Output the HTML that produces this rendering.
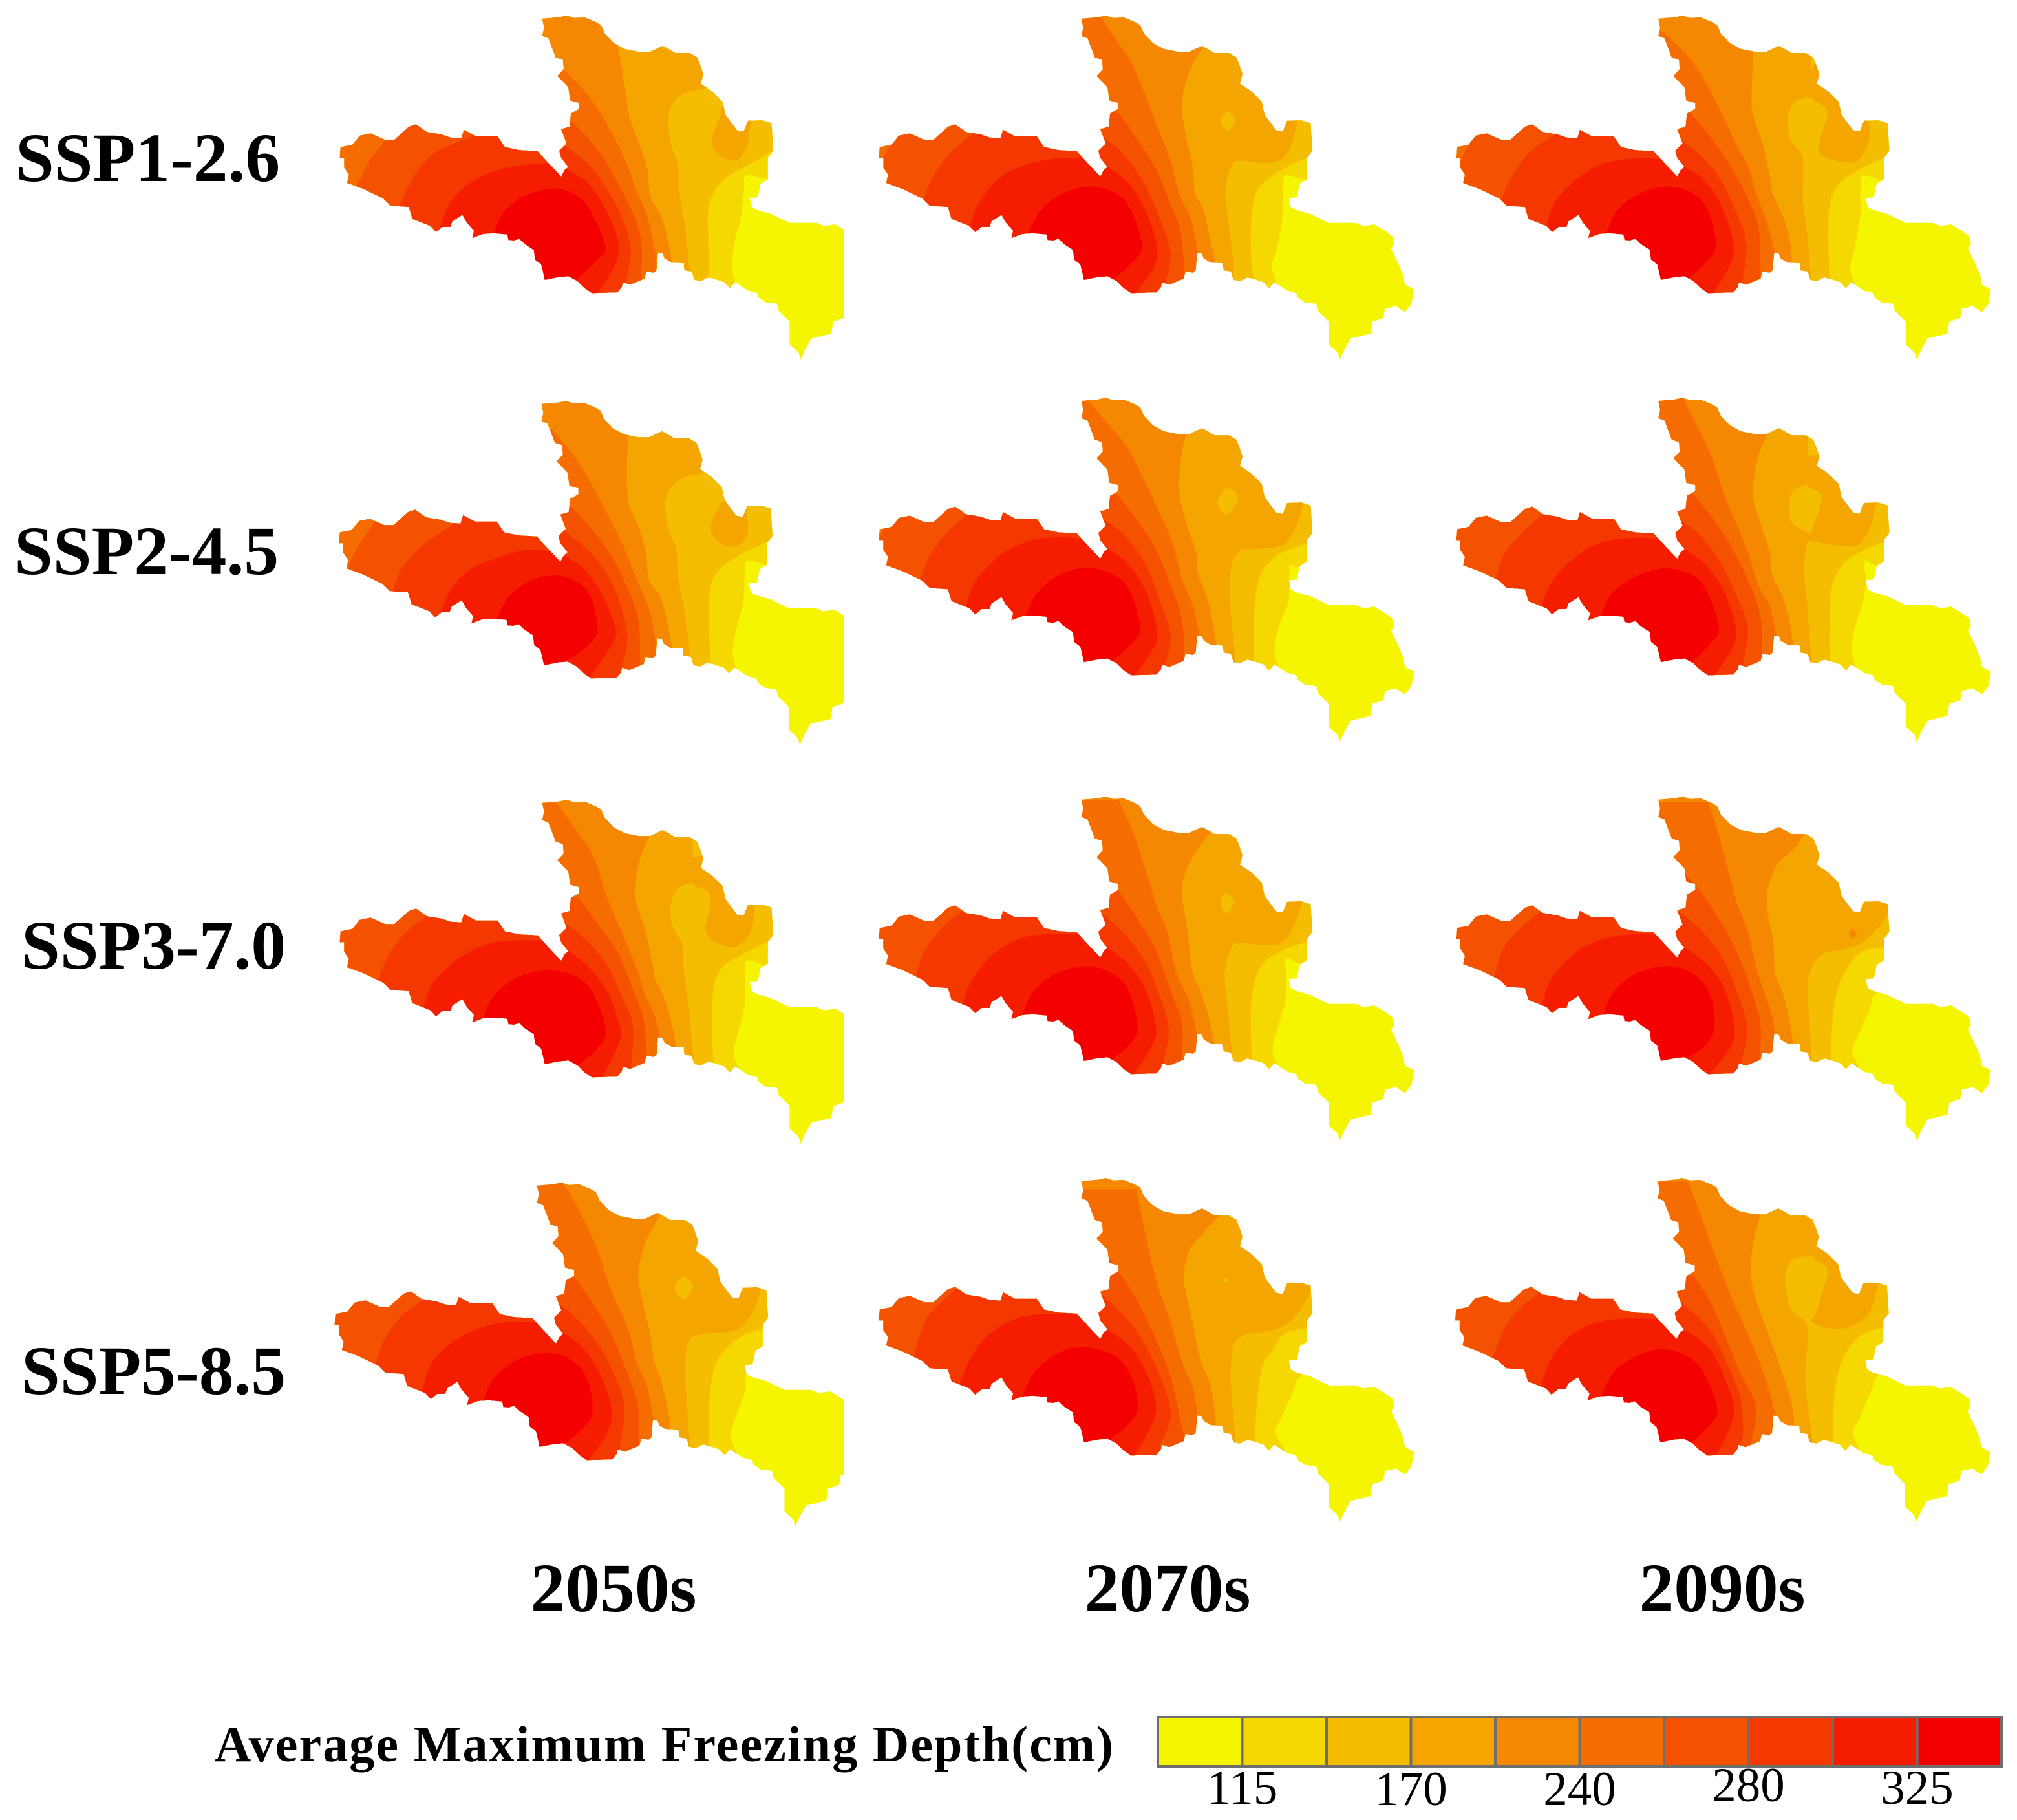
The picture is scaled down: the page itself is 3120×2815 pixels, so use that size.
<!DOCTYPE html>
<html lang="en">
<head>
<meta charset="utf-8">
<title>Average Maximum Freezing Depth projections</title>
<style>
html,body{margin:0;padding:0;background:#fff;}
svg{display:block;}
text{font-family:"Liberation Serif",serif;fill:#000;}
.big{font-weight:bold;font-size:107.5px;}
</style>
</head>
<body>
<svg id="chart" xmlns="http://www.w3.org/2000/svg" width="3120" height="2815" viewBox="0 0 3120 2815">
<rect width="3120" height="2815" fill="#ffffff"/>
<g id="maps"></g>
<text class="big" x="24" y="280">SSP1-2.6</text>
<text class="big" x="22" y="888">SSP2-4.5</text>
<text class="big" x="33" y="1498">SSP3-7.0</text>
<text class="big" x="33" y="2156">SSP5-8.5</text>
<text class="big" x="949" y="2492" text-anchor="middle">2050s</text>
<text class="big" x="1806" y="2492" text-anchor="middle">2070s</text>
<text class="big" x="2664" y="2492" text-anchor="middle">2090s</text>
<text x="332" y="2724" font-size="78" font-weight="bold" textLength="1390" lengthAdjust="spacing">Average Maximum Freezing Depth(cm)</text>
<g id="legend"></g>
</svg>
<script>
const bandColors = ['#f5f500','#f5d800','#f5bd00','#f5a500','#f58800','#f56c00','#f55200','#f53800','#f51c00','#f50000'];
const legendTickLabels = ['115','170','240','280','325'];
const legendTickCells = [1,3,5,7,9];
const legendTickBaselines = [2790,2792,2792,2786,2790];
const scenarios = ['ssp1-2.6','ssp2-4.5','ssp3-7.0','ssp5-8.5'];
const decades = ['2050s','2070s','2090s'];

// basin boundary, in map units
const basinOutline = [[593,78],[640,72],[660,65],[680,75],[710,73],[740,92],[755,105],[765,140],[790,180],[820,205],[860,217],[890,217],[925,192],[945,208],[960,222],[1000,222],[1020,240],[1028,270],[1037,310],[1030,350],[1060,380],[1090,425],[1098,480],[1130,545],[1148,550],[1160,505],[1200,503],[1225,515],[1230,630],[1215,660],[1215,750],[1195,768],[1187,825],[1165,828],[1170,865],[1185,878],[1225,895],[1275,932],[1350,932],[1370,945],[1400,938],[1430,965],[1452,990],[1455,1020],[1447,1040],[1465,1095],[1480,1150],[1485,1190],[1510,1210],[1503,1270],[1485,1305],[1460,1280],[1430,1290],[1425,1330],[1395,1345],[1390,1395],[1335,1415],[1320,1455],[1305,1503],[1300,1475],[1275,1440],[1275,1345],[1245,1300],[1240,1270],[1210,1265],[1190,1245],[1185,1225],[1160,1215],[1125,1180],[1110,1205],[1095,1180],[1065,1165],[1050,1160],[1030,1175],[1012,1170],[1005,1135],[985,1130],[983,1100],[950,1098],[930,1080],[925,1060],[912,1058],[908,1130],[900,1140],[880,1135],[875,1165],[835,1190],[815,1180],[812,1200],[800,1222],[730,1225],[710,1205],[690,1175],[665,1155],[640,1158],[600,1170],[595,1135],[590,1105],[573,1085],[570,1045],[545,1020],[530,998],[515,1005],[500,1003],[497,980],[460,975],[430,978],[400,995],[405,965],[385,930],[373,898],[345,925],[340,948],[318,948],[300,970],[285,945],[235,915],[225,865],[175,860],[155,830],[100,790],[55,765],[60,730],[47,700],[47,660],[35,660],[37,615],[70,605],[90,567],[120,558],[160,585],[185,585],[225,530],[245,520],[275,552],[315,562],[340,575],[370,578],[377,543],[410,570],[470,570],[490,615],[530,628],[580,632],[615,690],[645,738],[655,710],[665,698],[645,660],[640,630],[660,600],[645,540],[668,530],[672,475],[695,455],[695,430],[670,420],[665,365],[635,318],[652,290],[650,250],[630,240],[610,160],[593,150],[598,115]];

// contour lines per panel (L1 yellow edge ... L9 red core)
const mapR1C1 = {
 L1:[[1350,765],[1285,750],[1222,733],[1215,800],[1205,920],[1190,1000],[1180,1110],[1190,1185]],
 L2:[[1340,600],[1305,625],[1240,680],[1170,735],[1130,800],[1112,880],[1112,1000],[1115,1160]],
 L3:[[1110,365],[1045,390],[1010,430],[997,500],[1005,610],[1025,690],[1030,820],[1045,950],[1058,1130]],
 holes:[[[1165,430],[1230,470],[1230,560],[1222,620],[1190,672],[1140,645],[1122,590],[1140,510]]],
 L4:[[850,185],[860,260],[875,400],[885,490],[910,590],[935,700],[945,820],[975,900],[995,1000],[1007,1095]],
 L5:[[697,295],[760,390],[820,520],[875,680],[905,800],[935,900],[960,1060]],
 L6:[[720,510],[800,640],[860,790],[905,930],[920,1040],[917,1170]], W6:[[97,775],[130,680],[180,583]],
 L7:[[700,612],[760,680],[810,770],[860,900],[888,1040],[875,1175]], W7:[[220,860],[260,740],[320,640],[440,565]],
 L8:[[700,705],[760,760],[810,860],[850,1000],[845,1100],[795,1222]], W8:[[338,950],[370,840],[440,750],[520,705],[610,685],[658,688]],
 L9:[[493,975],[520,890],[580,820],[670,788],[740,825],[775,890],[815,1030],[790,1090],[730,1170]]
};
const mapR1C2 = {
 L1:[[1300,770],[1215,752],[1155,735],[1148,800],[1146,920],[1130,1050],[1118,1110],[1130,1180]],
 L2:[[1290,620],[1215,660],[1140,715],[1085,780],[1065,860],[1060,1000],[1062,1110],[1068,1170]],
 L3:[[1190,503],[1175,590],[1150,660],[1100,682],[1030,672],[1005,700],[990,800],[1000,950],[1012,1100],[1012,1175]],
 islands:[[2,[[995,467],[1017,505],[995,545],[977,505]]]],
 L4:[[930,192],[900,270],[880,350],[870,450],[880,560],[900,700],[905,800],[930,880],[945,980],[962,1097]],
 L5:[[645,65],[690,170],[730,260],[770,400],[800,520],[840,680],[860,800],[895,920],[915,1060]],
 L6:[[690,460],[750,590],[800,710],[840,860],[865,960],[877,1130]], W6:[[48,660],[55,630],[70,605]],
 L7:[[648,570],[700,630],[760,750],[800,880],[838,1050],[825,1180]], W7:[[158,835],[180,750],[230,640],[295,560]],
 L8:[[665,698],[720,760],[770,880],[800,1020],[795,1110],[745,1222]], W8:[[285,945],[310,850],[370,740],[450,685],[530,662],[600,660]],
 L9:[[447,975],[480,880],[540,810],[620,780],[690,810],[730,880],[760,1030],[730,1100],[680,1170]]
};
const mapR1C3 = {
 L1:[[1290,770],[1205,755],[1148,735],[1140,800],[1140,900],[1125,1030],[1112,1120],[1125,1185]],
 L2:[[1280,610],[1205,660],[1130,715],[1080,770],[1055,860],[1052,1000],[1055,1160]],
 L3:[[1005,405],[960,425],[940,500],[950,590],[980,650],[982,750],[982,850],[995,1000],[1003,1175]],
 holes:[[[1005,405],[1048,460],[1040,530],[1025,610],[1040,655],[1105,680],[1140,660],[1165,580],[1163,505],[1170,450],[1200,300],[1100,50],[1005,300]]],
 L4:[[845,215],[842,330],[842,460],[870,600],[890,730],[898,810],[925,900],[945,1000],[952,1100]],
 L5:[[598,135],[650,210],[700,310],[750,450],[800,610],[830,690],[850,800],[880,920],[905,1060]],
 L6:[[670,470],[720,560],[780,690],[830,830],[860,960],[865,1170]], W6:[[38,680],[50,630],[62,610]],
 L7:[[640,580],[700,650],[750,740],[790,860],[825,1010],[815,1180]], W7:[[150,835],[175,750],[225,640],[300,560]],
 L8:[[655,700],[700,740],[750,840],[785,980],[785,1090],[735,1225]], W8:[[275,945],[300,840],[370,735],[440,680],[540,660],[590,665]],
 L9:[[440,972],[470,880],[530,810],[610,780],[680,810],[720,880],[742,1020],[720,1090],[665,1165]]
};
const mapR2C1 = {
 L1:[[1300,775],[1222,755],[1165,735],[1158,800],[1155,900],[1135,1020],[1125,1120],[1135,1185]],
 L2:[[1300,590],[1225,650],[1150,705],[1095,760],[1065,840],[1060,1000],[1065,1160]],
 L3:[[1045,368],[990,385],[955,430],[938,500],[950,610],[970,690],[975,800],[995,970],[1008,1135]],
 holes:[[[1100,480],[1075,540],[1065,600],[1085,655],[1130,675],[1160,640],[1168,590],[1163,520],[1180,480],[1130,430]]],
 L4:[[838,215],[833,350],[838,490],[865,590],[885,690],[895,815],[925,880],[945,990],[958,1097]],
 L5:[[625,180],[680,280],[720,370],[770,510],[820,660],[855,790],[895,940],[912,1060]],
 L6:[[680,505],[730,590],[790,710],[830,830],[865,980],[870,1170]], W6:[[68,750],[90,680],[140,565]],
 L7:[[662,612],[720,680],[770,770],[810,890],[835,1050],[818,1185]], W7:[[188,860],[215,760],[270,670],[355,580]],
 L8:[[660,712],[710,760],[760,860],[795,980],[800,1060],[730,1225]], W8:[[318,970],[345,860],[400,770],[470,725],[550,690],[622,692]],
 L9:[[475,975],[510,880],[570,815],[640,795],[700,825],[735,890],[752,1020],[725,1090],[665,1155]]
};
const mapR2C2 = {
 L1:[[1300,770],[1195,762],[1168,755],[1167,830],[1163,910],[1140,1000],[1125,1100],[1135,1170]],
 L2:[[1290,620],[1215,660],[1140,705],[1095,770],[1075,860],[1068,1000],[1068,1155]],
 L3:[[1205,490],[1190,570],[1155,660],[1100,682],[1035,690],[1010,740],[1002,830],[1005,950],[1018,1160]],
 islands:[[2,[[995,430],[1025,470],[995,540],[968,490]]]],
 L4:[[883,205],[870,280],[863,380],[865,470],[885,590],[910,700],[915,790],[940,890],[955,990],[965,1085]],
 L5:[[610,60],[660,150],[720,260],[770,410],[820,570],[850,690],[870,810],[900,920],[918,1045]],
 L6:[[690,455],[750,570],[800,690],[840,840],[870,980],[877,1150]], W6:[[37,645],[42,620],[48,600]],
 L7:[[648,555],[700,610],[760,720],[800,860],[838,1040],[825,1165]], W7:[[148,815],[175,710],[225,610],[280,540]],
 L8:[[665,682],[720,745],[770,860],[800,1010],[795,1090],[742,1212]], W8:[[275,925],[300,820],[370,710],[450,650],[530,635],[590,640]],
 L9:[[440,960],[470,870],[530,795],[612,762],[690,800],[730,870],[755,1020],[725,1090],[675,1155]]
};
const mapR2C3 = {
 L1:[[1290,765],[1190,755],[1150,733],[1155,810],[1148,900],[1130,990],[1115,1090],[1125,1170]],
 L2:[[1280,610],[1205,655],[1130,705],[1085,760],[1060,860],[1055,1000],[1055,1150]],
 L3:[[995,415],[955,440],[945,500],[952,575],[1000,625],[990,680],[985,780],[995,950],[1005,1160]],
 holes:[[[995,415],[1030,450],[1030,500],[1010,590],[1000,630],[1010,652],[1095,672],[1135,665],[1165,600],[1185,490],[1190,420],[1130,300],[995,300]]],
 L4:[[883,205],[860,290],[845,400],[845,480],[870,600],[890,700],[898,800],[925,880],[945,990],[955,1085]],
 L5:[[650,50],[690,170],[730,300],[770,480],[810,620],[835,720],[860,840],[890,920],[908,1050]],
 L6:[[680,455],[740,570],[790,690],[840,850],[865,970],[870,1130]],
 L7:[[640,558],[700,630],[750,730],[790,850],[830,1010],[815,1170]], W7:[[135,805],[160,700],[205,620],[262,540]],
 L8:[[655,685],[710,745],[760,850],[795,1000],[790,1090],[738,1212]], W8:[[262,920],[290,820],[350,725],[420,660],[510,638],[580,640]],
 L9:[[427,960],[455,870],[520,800],[600,765],[680,795],[720,870],[750,1020],[720,1090],[675,1160]]
};
const mapR3C1 = {
 L1:[[1310,770],[1222,752],[1165,730],[1160,800],[1158,915],[1140,1030],[1128,1110],[1140,1178]],
 L2:[[1300,610],[1225,650],[1150,705],[1095,760],[1072,850],[1068,1000],[1072,1150]],
 L3:[[1015,405],[975,425],[955,490],[958,580],[985,660],[990,770],[1005,940],[1018,1160]],
 holes:[[[1015,405],[1060,445],[1062,510],[1050,600],[1075,650],[1125,672],[1160,640],[1180,580],[1185,495],[1190,420],[1130,300],[1015,300]]],
 L4:[[895,212],[870,300],[858,400],[860,490],[885,610],[905,750],[910,800],[935,880],[955,980],[970,1090]],
 L5:[[640,68],[690,175],[740,290],[780,470],[825,630],[860,760],[880,860],[910,960],[925,1053]],
 L6:[[700,465],[760,590],[810,700],[850,850],[880,980],[888,1130]],
 L7:[[655,565],[720,640],[780,750],[820,880],[850,1000],[845,1180]], W7:[[148,810],[175,710],[225,610],[280,545]],
 L8:[[675,690],[730,760],[780,860],[810,980],[815,1060],[765,1218]], W8:[[273,925],[300,820],[370,720],[450,660],[530,645],[600,645]],
 L9:[[437,968],[465,880],[530,800],[620,770],[700,800],[745,880],[775,1025],[750,1100],[700,1165]]
};
const mapR3C2 = {
 L1:[[1290,760],[1200,745],[1158,720],[1158,800],[1155,900],[1140,980],[1120,1100],[1132,1160]],
 L2:[[1290,610],[1215,650],[1150,685],[1095,740],[1068,830],[1060,950],[1062,1140]],
 L3:[[1203,482],[1180,580],[1150,650],[1100,665],[1030,655],[1005,680],[988,790],[1000,980],[1010,1145]],
 islands:[[2,[[993,448],[1014,485],[993,532],[976,485]]]],
 L4:[[950,190],[910,270],[880,360],[870,450],[885,600],[900,780],[920,850],[945,970],[960,1080]],
 L5:[[695,58],[735,190],[770,350],[800,500],[830,610],[855,780],[890,900],[912,1040]],
 L6:[[695,435],[750,560],[800,690],[840,860],[870,990],[870,1125]],
 L7:[[647,530],[700,600],[760,710],[800,840],[833,1010],[820,1155]], W7:[[135,800],[160,690],[210,590],[265,520]],
 L8:[[665,675],[720,740],[770,850],[798,1000],[790,1080],[737,1205]], W8:[[265,910],[295,800],[360,690],[440,630],[520,618],[585,620]],
 L9:[[430,955],[460,860],[520,785],[610,752],[680,785],[725,860],[748,1015],[720,1090],[675,1145]]
};
const mapR3C3 = {
 L1:[[1300,850],[1190,860],[1165,935],[1135,1040],[1118,1105],[1135,1170]],
 L2:[[1290,650],[1205,672],[1140,695],[1100,770],[1075,860],[1062,1000],[1060,1145]],
 L3:[[1222,520],[1190,590],[1150,650],[1100,680],[1040,700],[1005,760],[995,850],[1000,1000],[1005,1150]],
 L4:[[985,202],[955,265],[910,330],[885,430],[885,530],[900,650],[905,780],[925,860],[945,980],[955,1080]],
 L5:[[720,65],[745,180],[775,350],[800,490],[830,610],[850,740],[870,840],[895,950],[905,1040]],
 L6:[[660,370],[700,440],[760,580],[810,730],[845,880],[865,1000],[862,1148]],
 L7:[[640,525],[700,600],[760,720],[800,860],[828,1010],[812,1155]], W7:[[130,800],[155,680],[205,590],[258,525]],
 L8:[[655,675],[710,735],[760,830],[790,980],[785,1080],[725,1205]], W8:[[262,910],[290,800],[360,690],[440,635],[520,618],[578,622]],
 L9:[[432,950],[460,860],[520,785],[605,752],[680,785],[725,870],[738,1000],[715,1080],[660,1140]],
 islands:[[4,[[1118,597],[1130,620],[1118,637],[1108,615]]]]
};
const mapR4C1 = {
 L1:[[1300,820],[1225,832],[1220,900],[1195,1000],[1177,1090],[1195,1165]],
 L2:[[1340,630],[1272,650],[1205,685],[1160,740],[1130,810],[1115,950],[1115,1140]],
 L3:[[1265,487],[1245,570],[1210,640],[1170,665],[1100,672],[1060,695],[1045,790],[1050,950],[1058,1120]],
 islands:[[2,[[1042,438],[1068,480],[1040,530],[1015,480]]]],
 L4:[[975,178],[930,300],[912,400],[915,490],[945,680],[955,780],[975,860],[995,980],[1003,1070]],
 L5:[[690,50],[730,140],[790,320],[830,490],[880,650],[905,790],[935,890],[955,1030]],
 L6:[[725,440],[790,570],[840,700],[885,860],[910,980],[912,1140]],
 L7:[[675,540],[740,620],[800,730],[840,840],[870,980],[855,1150]], W7:[[150,800],[175,700],[225,600],[285,535]],
 L8:[[695,670],[750,730],[800,840],[832,980],[820,1080],[765,1195]], W8:[[285,915],[310,800],[370,710],[450,650],[530,625],[610,625]],
 L9:[[463,948],[490,860],[560,780],[640,752],[710,775],[760,850],[778,990],[750,1060],[695,1125]]
};
const mapR4C2 = {
 L1:[[650,850],[596,865],[580,950],[565,1050],[558,1105],[570,1180]],
 L2:[[650,650],[600,672],[570,695],[555,760],[540,830],[532,1000],[530,1145]],
 L3:[[605,520],[590,600],[570,660],[540,688],[515,700],[500,750],[497,900],[503,1130]],
 islands:[[2,[[490,462],[493,472],[490,482],[487,472]]]],
 L4:[[480,205],[460,270],[440,350],[433,470],[445,650],[455,800],[470,920],[477,1080]],
 L5:[[368,90],[380,270],[395,470],[415,650],[430,810],[445,920],[452,1040]],
 L6:[[330,370],[345,440],[370,560],[395,720],[415,880],[433,1125]],
 L7:[[320,525],[360,650],[385,770],[405,910],[415,1040],[400,1165]], W7:[[65,785],[80,640],[100,570],[125,500]],
 L8:[[325,670],[360,750],[385,880],[395,1010],[385,1100],[365,1205]], W8:[[128,895],[145,780],[170,690],[210,625],[265,610],[285,615]],
 L9:[[213,955],[230,850],[265,770],[300,752],[340,790],[362,880],[370,1000],[358,1070],[333,1135]]
};
const mapR4C3 = {
 L1:[[1440,850],[1383,865],[1370,930],[1355,1040],[1345,1105],[1352,1170]],
 L2:[[1440,650],[1387,668],[1360,695],[1340,750],[1325,850],[1318,1000],[1318,1145]],
 L3:[[1290,370],[1262,385],[1252,470],[1260,590],[1278,640],[1283,700],[1280,900],[1290,1150]],
 holes:[[[1290,370],[1310,420],[1305,500],[1295,600],[1290,650],[1325,675],[1350,650],[1370,590],[1380,485],[1400,400],[1350,250],[1290,250]]],
 L4:[[1218,200],[1207,350],[1208,500],[1230,700],[1245,830],[1260,970],[1265,1080]],
 L5:[[1120,58],[1135,180],[1155,350],[1180,550],[1205,720],[1225,880],[1240,1040]],
 L6:[[1128,450],[1150,560],[1170,700],[1190,850],[1212,1000],[1205,1160]],
 L7:[[1112,565],[1150,680],[1170,800],[1190,950],[1195,1100],[1190,1165]], W7:[[853,800],[870,670],[890,590],[915,530]],
 L8:[[1118,680],[1150,760],[1170,880],[1183,1010],[1175,1100],[1158,1205]], W8:[[920,905],[935,790],[965,690],[1005,640],[1050,630],[1080,635]],
 L9:[[1002,955],[1020,850],[1055,780],[1090,760],[1125,800],[1145,880],[1160,1010],[1150,1075],[1125,1150]]
};

const panelMaps = [mapR1C1,mapR1C2,mapR1C3,mapR2C1,mapR2C2,mapR2C3,mapR3C1,mapR3C2,mapR3C3,mapR4C1,mapR4C2,mapR4C3];
const outlineOriginX = [506,1340,2232.4,504.8,1340,2232.4,506,1340,2232.4,498,1340,2231.5];
const outlineOriginY = [0,0,0,596,591.2,591.2,1213,1208,1208,1805,1798,1798];
const readOriginX = [500,1340,2238,502,1340,2238,502,1340,2238,500,1340,1340];
const readOriginY = [0,0,0,596,596,596,1216,1216,1216,1810,1806,1806];
const readScaleX = [1.867,1.782,1.782,1.782,1.782,1.782,1.782,1.782,1.782,1.867,0.881,0.881];
const readScaleY = [2.703,2.703,2.703,2.703,2.703,2.703,2.703,2.703,2.703,2.658,2.703,2.703];
const OUTLINE_SX = 1.782, OUTLINE_SY = 2.703, COLUMN1_CLIP_X = 1306;

const NS = 'http://www.w3.org/2000/svg';
function smooth(pts, closed) {
  const n = pts.length;
  const at = i => closed ? pts[(i + n) % n] : pts[Math.max(0, Math.min(n - 1, i))];
  let d = '';
  const last = closed ? n : n - 1;
  for (let i = 0; i < last; i++) {
    const p0 = at(i - 1), p1 = at(i), p2 = at(i + 1), p3 = at(i + 2);
    d += 'C' + (p1[0] + (p2[0] - p0[0]) / 6).toFixed(1) + ' ' + (p1[1] + (p2[1] - p0[1]) / 6).toFixed(1) + ' ' +
         (p2[0] - (p3[0] - p1[0]) / 6).toFixed(1) + ' ' + (p2[1] - (p3[1] - p1[1]) / 6).toFixed(1) + ' ' +
         p2[0].toFixed(1) + ' ' + p2[1].toFixed(1);
  }
  return d;
}
const L = p => 'L' + p[0].toFixed(1) + ' ' + p[1].toFixed(1);
const M = p => 'M' + p[0].toFixed(1) + ' ' + p[1].toFixed(1);

const mapsGroup = document.getElementById('maps');
const defs = document.createElementNS(NS, 'defs');
mapsGroup.appendChild(defs);

panelMaps.forEach(function (data, idx) {
  const ox = outlineOriginX[idx], oy = outlineOriginY[idx];
  const fx = readOriginX[idx], fy = readOriginY[idx], fsx = readScaleX[idx], fsy = readScaleY[idx];
  const toOutline = p => [ox + p[0] / OUTLINE_SX, oy + p[1] / OUTLINE_SY];
  const toRead = p => [fx + p[0] / fsx, fy + p[1] / fsy];
  const bottom = oy + 620, top = oy - 60, left = ox - 60;
  const gapX = toOutline([500, 0])[0];
  const row = Math.floor(idx / 3), col = idx % 3;

  const clip = document.createElementNS(NS, 'clipPath');
  clip.setAttribute('id', 'outline-' + idx);
  const clipPathEl = document.createElementNS(NS, 'path');
  clipPathEl.setAttribute('d', basinOutline.map((p, i) => (i ? L : M)(toOutline(p))).join('') + 'Z');
  clip.appendChild(clipPathEl);
  defs.appendChild(clip);

  const outer = document.createElementNS(NS, 'g');
  
  
  if (col === 0) {
    const clipRect = document.createElementNS(NS, 'clipPath');
    clipRect.setAttribute('id', 'edge-' + idx);
    const r = document.createElementNS(NS, 'rect');
    r.setAttribute('x', 0); r.setAttribute('y', 0);
    r.setAttribute('width', COLUMN1_CLIP_X); r.setAttribute('height', 2815);
    clipRect.appendChild(r);
    defs.appendChild(clipRect);
    outer.setAttribute('clip-path', 'url(#edge-' + idx + ')');
  }
  const g = document.createElementNS(NS, 'g');
  g.setAttribute('clip-path', 'url(#outline-' + idx + ')');
  outer.appendChild(g);
  mapsGroup.appendChild(outer);

  function band(level, d) {
    const el = document.createElementNS(NS, 'path');
    el.setAttribute('d', d);
    el.setAttribute('fill', bandColors[level]);
    
    
    g.appendChild(el);
  }

  const base = document.createElementNS(NS, 'rect');
  base.setAttribute('x', left); base.setAttribute('y', top);
  base.setAttribute('width', 1000); base.setAttribute('height', 700);
  base.setAttribute('fill', bandColors[0]);
  
  
  g.appendChild(base);

  function closedBlob(level, raw) {
    const pts = raw.map(toRead);
    band(level, M(pts[0]) + smooth(pts, true) + 'Z');
  }

  // bands 1-4: everything west of the contour
  [1, 2, 3, 4].forEach(function (lv) {
    const s = data['L' + lv].map(toRead);
    const a = s[0], b = s[s.length - 1];
    band(lv, M(a) + smooth(s) + L([b[0], bottom]) + L([left, bottom]) + L([left, top]) + L([a[0], top]) + 'Z');
    if (lv === 3 && data.holes) data.holes.forEach(h => closedBlob(3, h));
  });
  // band 5 and band 6: also stay out of the northern lobe
  [5, 6].forEach(function (lv) {
    const s = data['L' + lv].map(toRead);
    const a = s[0], b = s[s.length - 1];
    let d = M(a) + smooth(s);
    const wRaw = data['W' + lv];
    if (wRaw) {
      const w = wRaw.map(toRead);
      d += L([b[0], bottom]) + L([w[0][0], bottom]) + L(w[0]) + smooth(w) +
           L([w[w.length - 1][0], oy + 150]) + L([gapX, oy + 150]) + L([gapX, a[1]]) + 'Z';
    } else {
      d += L([b[0], bottom]) + L([left, bottom]) + L([left, top]) + L([gapX, top]) + L([gapX, a[1]]) + 'Z';
    }
    band(lv, d);
  });
  // band 7 and band 8: east and west arcs joined through the notch
  const w7 = data.W7.map(toRead), e7 = data.L7.map(toRead);
  band(7, M(e7[0]) + smooth(e7) + L([e7[e7.length - 1][0], bottom]) + L([w7[0][0], bottom]) + L(w7[0]) + smooth(w7) +
    L([w7[w7.length - 1][0], oy + 150]) + L(toOutline([600, 400])) + L(toOutline([620, 560])) + 'Z');
  const w8 = data.W8.map(toRead), e8 = data.L8.map(toRead);
  band(8, M(e8[0]) + smooth(e8) + L([e8[e8.length - 1][0], bottom]) + L([w8[0][0], bottom]) + L(w8[0]) + smooth(w8) +
    L(toOutline([620, 640])) + L(toOutline([645, 705])) + 'Z');
  // band 9: the core
  const c = data.L9.map(toRead);
  band(9, M(c[0]) + smooth(c) + L([c[c.length - 1][0], bottom]) + L([c[0][0], bottom]) + 'Z');
  // small isolated patches
  if (data.islands) data.islands.forEach(i => closedBlob(i[0], i[1]));
});

// legend
const legend = document.getElementById('legend');
const LEG_X = 1791, LEG_Y = 2656, LEG_CELL = 130.5, LEG_H = 76;
bandColors.forEach(function (color, i) {
  const cell = document.createElementNS(NS, 'rect');
  cell.setAttribute('x', LEG_X + i * LEG_CELL);
  cell.setAttribute('y', LEG_Y);
  cell.setAttribute('width', LEG_CELL);
  cell.setAttribute('height', LEG_H);
  cell.setAttribute('fill', color);
  cell.setAttribute('stroke', '#6e6e6e');
  cell.setAttribute('stroke-width', '4');
  
  
  legend.appendChild(cell);
});
legendTickLabels.forEach(function (label, i) {
  const t = document.createElementNS(NS, 'text');
  t.setAttribute('x', LEG_X + legendTickCells[i] * LEG_CELL);
  t.setAttribute('y', legendTickBaselines[i]);
  t.setAttribute('text-anchor', 'middle');
  t.setAttribute('font-size', '75');
  t.textContent = label;
  
  
  legend.appendChild(t);
});
</script>
</body>
</html>
